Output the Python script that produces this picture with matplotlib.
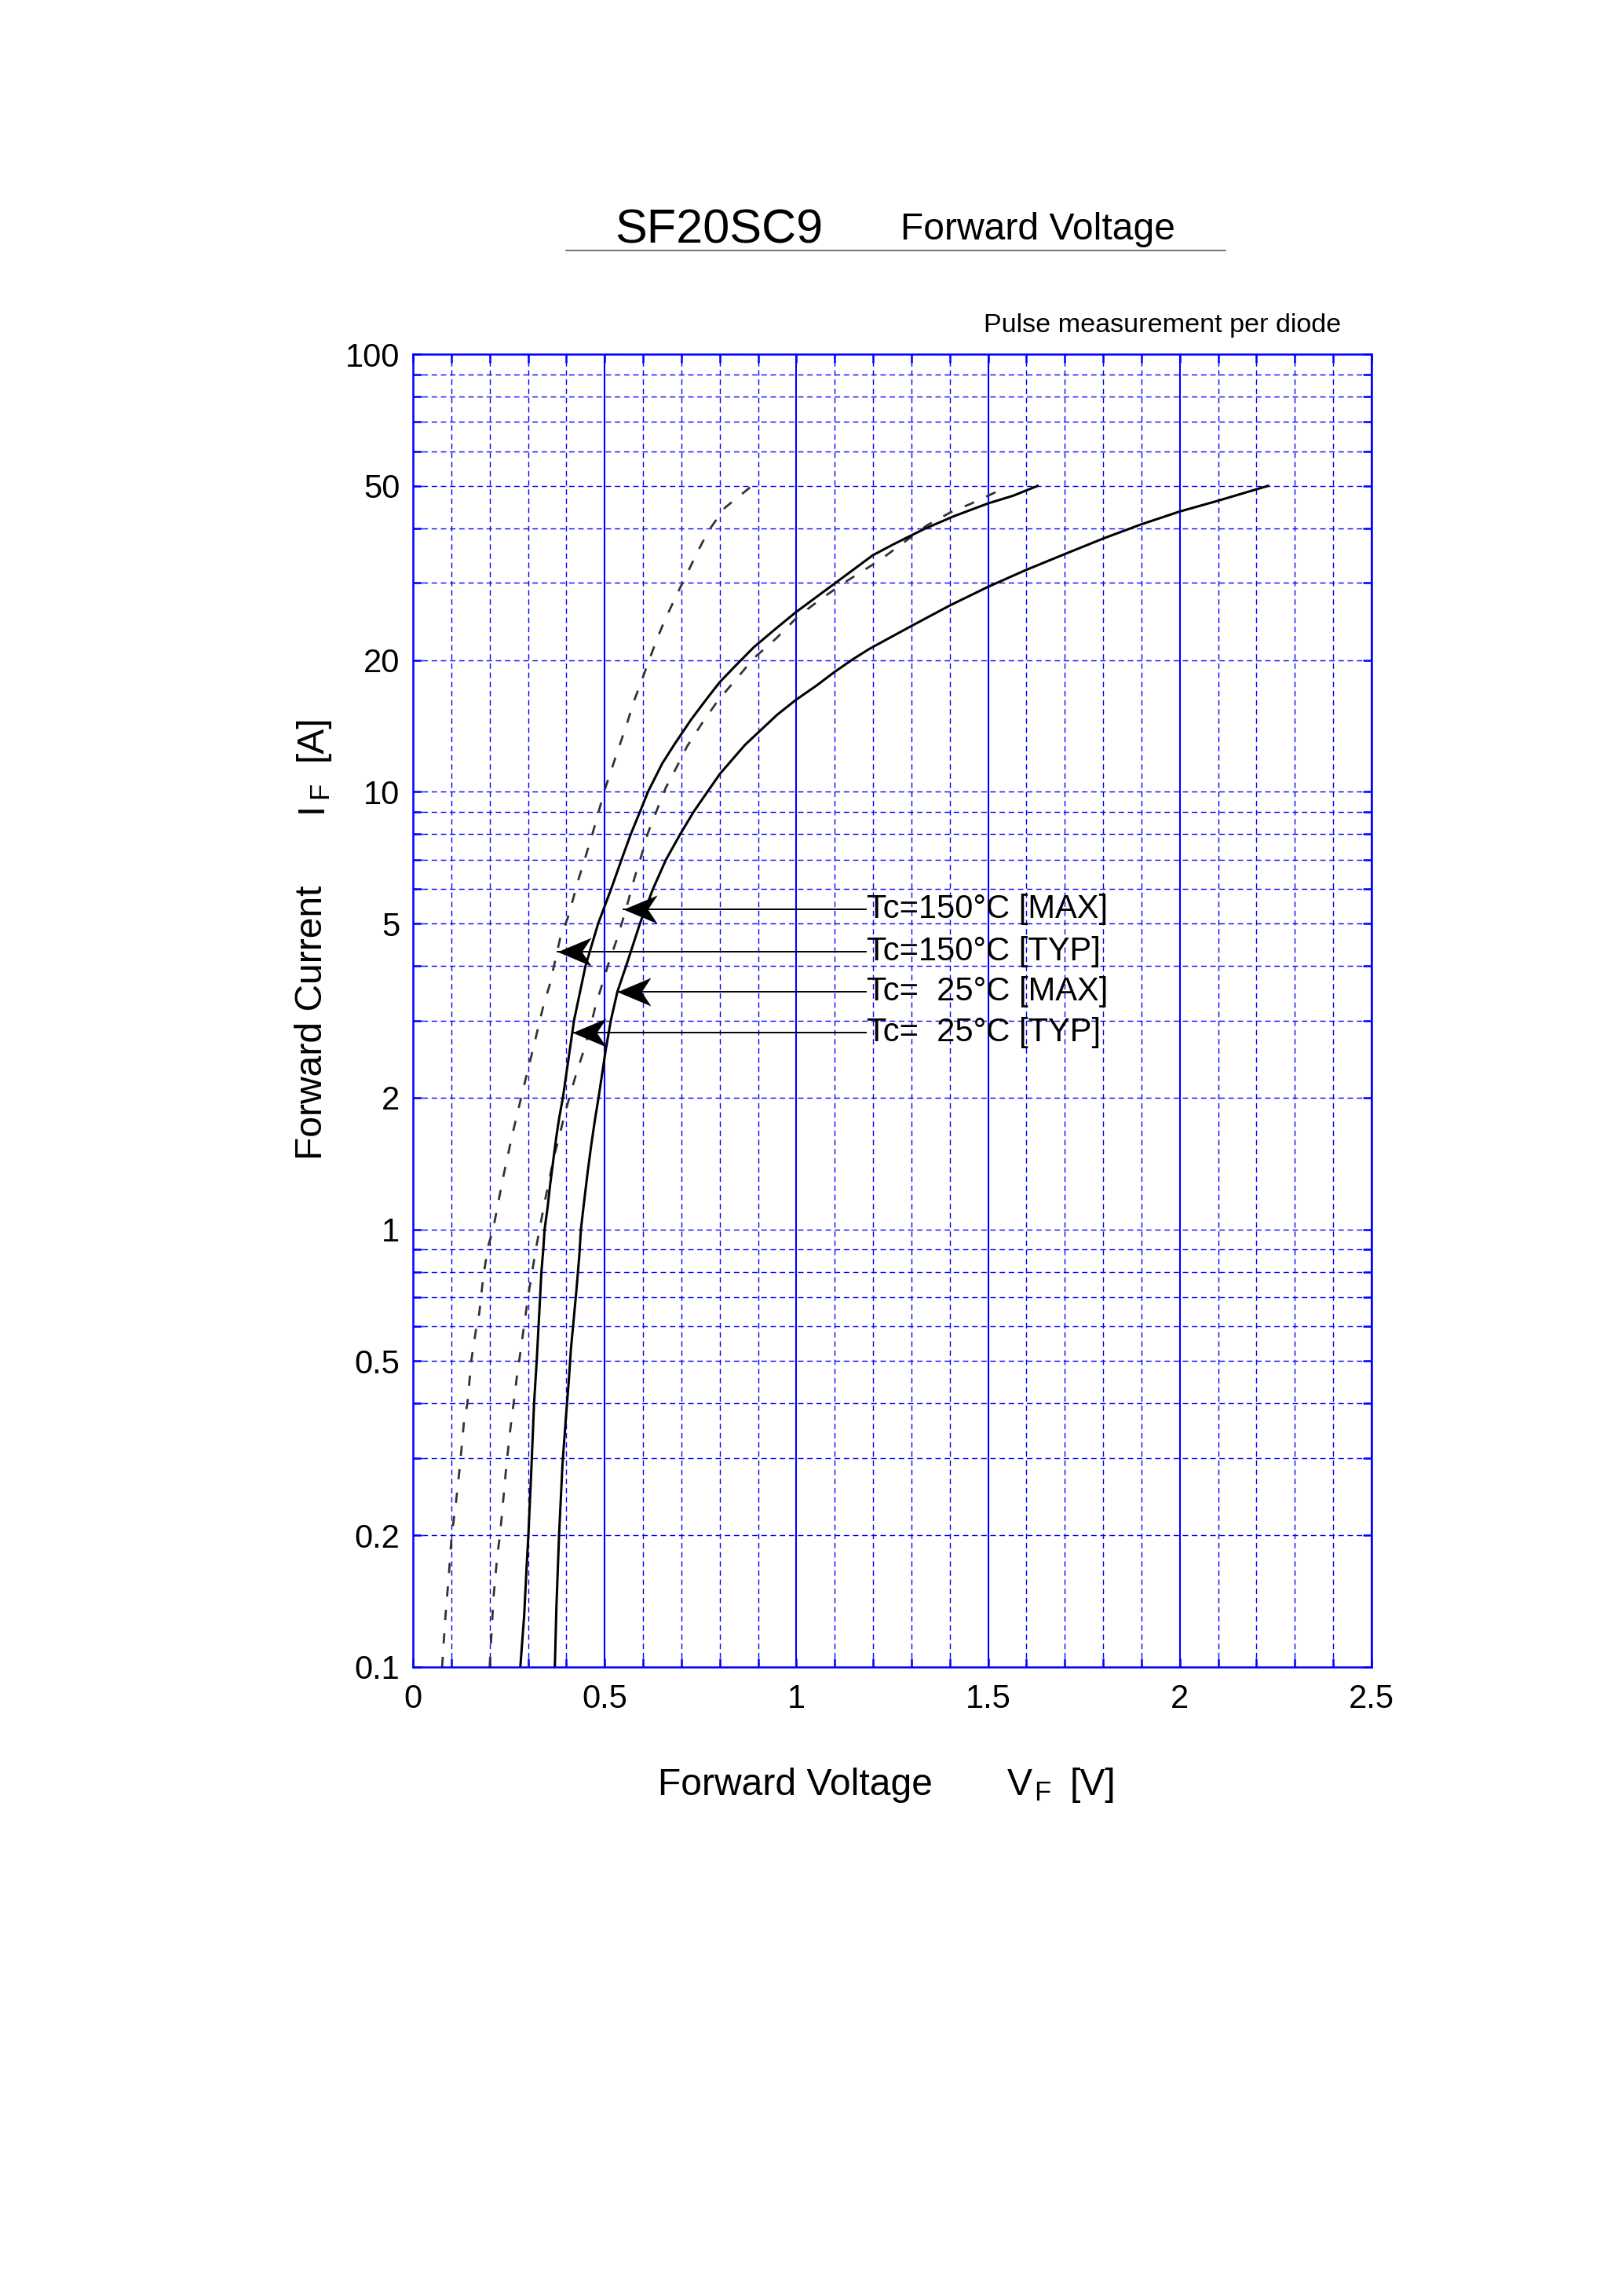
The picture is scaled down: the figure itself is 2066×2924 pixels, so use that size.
#!/usr/bin/env python3
"""SF20SC9 forward voltage curves (IF vs VF), datasheet style."""
import matplotlib
matplotlib.use("Agg")
import matplotlib.pyplot as plt
from matplotlib.lines import Line2D
from matplotlib.path import Path
from matplotlib.ticker import FixedFormatter, FixedLocator

W, H, DPI = 2066, 2924, 200

plt.rcParams["font.family"] = ["Liberation Sans", "DejaVu Sans"]

# Tc=150C [TYP] (dashed, left)
v_150_typ = [0.076, 0.084, 0.094, 0.101, 0.111, 0.123, 0.133, 0.142, 0.152, 0.164,
             0.173, 0.183, 0.196, 0.209, 0.234, 0.258, 0.271, 0.285, 0.313, 0.340,
             0.357, 0.384, 0.405, 0.432, 0.452, 0.469, 0.486, 0.500, 0.520, 0.538,
             0.558, 0.575, 0.596, 0.615, 0.637, 0.658, 0.688, 0.742, 0.770, 0.814,
             0.884]
i_150_typ = [0.1, 0.128, 0.164, 0.2, 0.233, 0.291, 0.363, 0.4, 0.5, 0.587,
             0.644, 0.775, 0.915, 1.0, 1.30, 1.63, 1.82, 2.05, 2.58, 3.24,
             3.63, 4.63, 5.19, 6.32, 7.2, 8.06, 9.12, 10.1, 11.4, 12.7,
             14.3, 16.0, 17.9, 19.9, 22.4, 24.8, 28.2, 35.3, 39.4, 44.6,
             50]

# Tc=150C [MAX] (dashed, right)
v_150_max = [0.200, 0.210, 0.220, 0.227, 0.234, 0.244, 0.254, 0.264, 0.271, 0.279,
             0.287, 0.295, 0.303, 0.312, 0.321, 0.332, 0.343, 0.356, 0.367, 0.380,
             0.395, 0.411, 0.428, 0.446, 0.465, 0.476, 0.493, 0.510, 0.531, 0.548,
             0.562, 0.579, 0.596, 0.613, 0.637, 0.659, 0.688, 0.715, 0.753, 0.794,
             0.841, 0.889, 0.947, 1.005, 1.060, 1.121, 1.217, 1.340, 1.402, 1.457,
             1.516, 1.530]
i_150_max = [0.1, 0.144, 0.18, 0.2, 0.233, 0.291, 0.35, 0.41, 0.461, 0.515,
             0.579, 0.65, 0.727, 0.811, 0.906, 1.02, 1.15, 1.30, 1.46, 1.61,
             1.82, 2.05, 2.30, 2.57, 2.95, 3.24, 3.62, 4.05, 4.58, 5.12,
             5.65, 6.41, 7.16, 8.06, 9.12, 10.2, 11.4, 12.7, 14.3, 16.1,
             18.0, 20.2, 22.4, 25.2, 27.4, 29.9, 33.8, 40.6, 43.5, 45.6,
             48.2, 49.0]

# Tc=25C [TYP] (solid, left)
v_25_typ = [0.280, 0.290, 0.297, 0.301, 0.309, 0.3158, 0.3227, 0.3275, 0.3316, 0.335,
            0.3399, 0.3433, 0.351, 0.358, 0.366, 0.374, 0.381, 0.391, 0.420, 0.450,
            0.483, 0.517, 0.544, 0.568, 0.592, 0.613, 0.650, 0.681, 0.725, 0.766,
            0.800, 0.841, 0.889, 0.944, 0.998, 1.053, 1.104, 1.199, 1.254, 1.332,
            1.410, 1.500, 1.566, 1.629]
i_25_typ = [0.1, 0.131, 0.173, 0.2, 0.286, 0.4, 0.5, 0.6, 0.7, 0.8,
            0.9, 1.0, 1.12, 1.27, 1.44, 1.63, 1.79, 2.0, 3.0, 4.0,
            5.0, 6.0, 7.0, 8.0, 9.0, 10.0, 11.6, 12.8, 14.6, 16.3,
            17.8, 19.4, 21.4, 23.5, 25.7, 27.9, 30.1, 34.7, 36.8, 39.8,
            42.6, 45.6, 47.5, 50]

# Tc=25C [MAX] (solid, right)
v_25_max = [0.370, 0.374, 0.381, 0.390, 0.400, 0.4065, 0.412, 0.419, 0.426, 0.434,
            0.438, 0.446, 0.456, 0.465, 0.475, 0.484, 0.503, 0.516, 0.533, 0.556,
            0.592, 0.626, 0.660, 0.697, 0.732, 0.768, 0.801, 0.866, 0.950, 0.998,
            1.053, 1.100, 1.148, 1.190, 1.299, 1.402, 1.500, 1.598, 1.699, 1.800,
            1.898, 2.000, 2.098, 2.230]
i_25_max = [0.1, 0.136, 0.2, 0.291, 0.383, 0.452, 0.533, 0.62, 0.721, 0.875,
            1.0, 1.15, 1.36, 1.56, 1.79, 2.0, 2.58, 3.0, 3.49, 4.0,
            5.0, 6.0, 7.0, 8.0, 9.0, 10.0, 11.0, 12.8, 15.0, 16.2,
            17.5, 18.8, 20.1, 21.2, 23.9, 26.7, 29.4, 32.1, 34.9, 37.9,
            40.8, 43.7, 46.2, 50]

# annotation arrows: label, tip voltage, current
labels = ["Tc=150°C [MAX]", "Tc=150°C [TYP]", "Tc=  25°C [MAX]", "Tc=  25°C [TYP]"]
arrow_tip_v = [0.548, 0.377, 0.533, 0.415]
arrow_i = [5.38, 4.31, 3.49, 2.82]
label_v = 1.181

x_ticks = [0, 0.5, 1, 1.5, 2, 2.5]
x_ticklabels = ["0", "0.5", "1", "1.5", "2", "2.5"]
y_ticks = [0.1, 0.2, 0.5, 1, 2, 5, 10, 20, 50, 100]
y_ticklabels = ["0.1", "0.2", "0.5", "1", "2", "5", "10", "20", "50", "100"]
y_minor = [0.3, 0.4, 0.6, 0.7, 0.8, 0.9, 3, 4, 6, 7, 8, 9, 30, 40, 60, 70, 80, 90]


def fx(px):
    return px / W


def fy(py):
    return 1 - py / H


BLUE = "#0000ff"
DASH_CURVE = (0, (4.7, 6.1))
GRID_LW = 0.5
DASH_GRID = (0, (2.5 / GRID_LW, 1.7 / GRID_LW))

# arrow head pointing left, tip at the origin, notched back
HEAD = Path([(0, 0), (1, 0.42), (0.72, 0), (1, -0.42), (0, 0)],
            [Path.MOVETO, Path.LINETO, Path.LINETO, Path.LINETO, Path.CLOSEPOLY])

fig = plt.figure(figsize=(W / DPI, H / DPI), dpi=DPI)
ax = fig.add_axes([fx(526), fy(2123), (1747 - 526) / W, (2123 - 451) / H])
ax.set_yscale("log")
ax.set_xlim(0, 2.5)
ax.set_ylim(0.1, 100)

ax.xaxis.set_major_locator(FixedLocator(x_ticks))
ax.xaxis.set_major_formatter(FixedFormatter(x_ticklabels))
ax.xaxis.set_minor_locator(FixedLocator([k / 10 for k in range(26)]))
ax.yaxis.set_major_locator(FixedLocator(y_ticks))
ax.yaxis.set_major_formatter(FixedFormatter(y_ticklabels))
ax.yaxis.set_minor_locator(FixedLocator(y_minor))
ax.yaxis.set_minor_formatter(FixedFormatter([""] * len(y_minor)))

ax.set_axisbelow(True)
ax.grid(which="major", axis="x", color=BLUE, linestyle="-", lw=0.75)
ax.grid(which="minor", axis="x", color=BLUE, linestyle=DASH_GRID, lw=GRID_LW)
ax.grid(which="both", axis="y", color=BLUE, linestyle=DASH_GRID, lw=GRID_LW)
for tick in ax.yaxis.get_major_ticks():
    if tick.get_loc() == 1:
        tick.gridline.set_linewidth(0.95)

for sp in ax.spines.values():
    sp.set_color(BLUE)
    sp.set_linewidth(0.9)

ax.tick_params(which="both", direction="in", top=True, right=True,
               color=BLUE, length=4, width=0.9, labelsize=15, labelcolor="black")
ax.tick_params(axis="x", which="both", pad=7.5)
ax.tick_params(axis="y", which="both", pad=6)

ax.plot(v_150_typ, i_150_typ, color="#333333", lw=1.0, linestyle=DASH_CURVE)
ax.plot(v_150_max, i_150_max, color="#333333", lw=1.0, linestyle=DASH_CURVE)
ax.plot(v_25_typ, i_25_typ, color="black", lw=1.1)
ax.plot(v_25_max, i_25_max, color="black", lw=1.1)

for lab, tv, iv in zip(labels, arrow_tip_v, arrow_i):
    ax.plot([tv, label_v], [iv, iv], color="black", lw=0.7)
    ax.plot([tv], [iv], marker=HEAD, markersize=31, color="black",
            markeredgewidth=0, linestyle="none")
    ax.text(label_v + 0.002, iv, lab, ha="left", va="center", fontsize=15)

# title block
fig.text(fx(916), fy(309), "SF20SC9", ha="center", va="baseline", fontsize=22)
fig.text(fx(1322), fy(305), "Forward Voltage", ha="center", va="baseline", fontsize=17.3)
fig.add_artist(Line2D([fx(721), fx(1561)], [fy(319), fy(319)], color="#555555", lw=0.6))
fig.text(fx(1708), fy(423), "Pulse measurement per diode", ha="right", va="baseline",
         fontsize=12.3)

# x label
fig.text(fx(1013), fy(2286), "Forward Voltage", ha="center", va="baseline", fontsize=17.3)
fig.text(fx(1283), fy(2286), "V", ha="left", va="baseline", fontsize=17.3)
fig.text(fx(1317), fy(2293), "F", ha="left", va="baseline", fontsize=12.5)
fig.text(fx(1363), fy(2286), "[V]", ha="left", va="baseline", fontsize=17.3)

# y label
fig.text(fx(410), fy(1302), "Forward Current", rotation=90, rotation_mode="anchor",
         ha="center", va="baseline", fontsize=17.3)
fig.text(fx(410), fy(1035), "I", rotation=90, rotation_mode="anchor",
         ha="left", va="baseline", fontsize=17.3)
fig.text(fx(417), fy(1017), "F", rotation=90, rotation_mode="anchor",
         ha="left", va="baseline", fontsize=12.5)
fig.text(fx(410), fy(969), "[A]", rotation=90, rotation_mode="anchor",
         ha="left", va="baseline", fontsize=17.3)

fig.savefig("out.png", dpi=DPI, facecolor="white")
